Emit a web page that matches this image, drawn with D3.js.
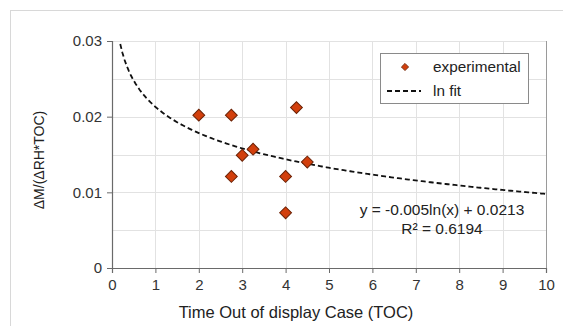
<!DOCTYPE html>
<html><head><meta charset="utf-8">
<script src="https://cdn.jsdelivr.net/npm/d3@7"></script>
<style>body{margin:0;background:#fff;}svg{display:block;font-family:"Liberation Sans",Arial,sans-serif;}</style>
</head><body>
<svg id="c" width="563" height="326"></svg>
<script>
const toc = [2, 2.75, 4.25, 3.25, 3, 4.5, 2.75, 4, 4];
const ratio = [0.0202, 0.0202, 0.0212, 0.0157, 0.0149, 0.0140, 0.0121, 0.0121, 0.0073];
const xTicks = [0,1,2,3,4,5,6,7,8,9,10];
const yTicks = [0, 0.01, 0.02, 0.03];
const yGrid = [0, 0.005, 0.01, 0.015, 0.02, 0.025, 0.03];
const fitA = -0.005, fitB = 0.0213;
const fitRange = [0.19, 10];
const legendLabels = ["experimental", "ln fit"];
const eqLines = ["y = -0.005ln(x) + 0.0213", "R² = 0.6194"];

const svg = d3.select("#c");
const L = 112, R = 546, T = 41, B = 268;
const x = d3.scaleLinear().domain([0,10]).range([L,R]);
const y = d3.scaleLinear().domain([0,0.03]).range([B,T]);

svg.append("rect").attr("x",10.5).attr("y",10.5).attr("width",600).attr("height",330)
  .attr("fill","#fff").attr("stroke","#d8d8d8");

svg.append("g").selectAll("line").data(yGrid).join("line")
  .attr("x1",L).attr("x2",R).attr("y1",d=>Math.round(y(d))+0.5).attr("y2",d=>Math.round(y(d))+0.5)
  .attr("stroke","#e2e2e2");
svg.append("g").selectAll("line").data(xTicks).join("line")
  .attr("y1",T).attr("y2",B).attr("x1",d=>Math.round(x(d))+0.5).attr("x2",d=>Math.round(x(d))+0.5)
  .attr("stroke","#e2e2e2");
svg.append("line").attr("x1",R+0.5).attr("x2",R+0.5).attr("y1",T).attr("y2",B).attr("stroke","#9a9a9a");

const xAxis = svg.append("g").attr("transform",`translate(0,${B})`)
  .call(d3.axisBottom(x).tickValues(xTicks).tickFormat(d3.format("d")).tickSizeOuter(0).tickSize(5).tickPadding(6));
const yAxis = svg.append("g").attr("transform",`translate(${L},0)`)
  .call(d3.axisLeft(y).tickValues(yTicks).tickFormat(d=>d===0?"0":d3.format(".2f")(d)).tickSizeOuter(0).tickSize(5).tickPadding(5));
[xAxis,yAxis].forEach(g=>{
  g.select(".domain").attr("stroke","#6a6a6a").attr("stroke-width",1.2);
  g.selectAll(".tick line").attr("stroke","#6a6a6a");
  g.selectAll("text").attr("fill","#333").style("font-size","15px").style("font-family","'Liberation Sans',Arial,sans-serif");
});

const fitPts = d3.range(fitRange[0], fitRange[1]+0.001, 0.05).map(v=>[v, fitA*Math.log(v)+fitB]);
svg.append("path").datum(fitPts)
  .attr("d", d3.line().x(d=>x(d[0])).y(d=>y(d[1])))
  .attr("fill","none").attr("stroke","#111").attr("stroke-width",1.8).attr("stroke-dasharray","5,3");

const sym = d3.symbol().type(d3.symbolSquare).size(70);
svg.append("g").selectAll("path").data(toc.map((t,i)=>[t,ratio[i]])).join("path")
  .attr("d", sym)
  .attr("transform", d=>`translate(${x(d[0])},${y(d[1])}) rotate(45)`)
  .attr("fill","#d23f0c").attr("stroke","#6b2206").attr("stroke-width",1);

svg.append("rect").attr("x",380.5).attr("y",53.5).attr("width",148).attr("height",50)
  .attr("fill","#fff").attr("stroke","#8a8a8a");
svg.append("path").attr("d", d3.symbol().type(d3.symbolSquare).size(26))
  .attr("transform","translate(405,67) rotate(45)").attr("fill","#d23f0c").attr("stroke","#6b2206").attr("stroke-width",0.8);
svg.append("line").attr("x1",387).attr("x2",421).attr("y1",91).attr("y2",91)
  .attr("stroke","#111").attr("stroke-width",1.8).attr("stroke-dasharray","5,3");
svg.append("g").selectAll("text").data(legendLabels).join("text")
  .attr("x",433).attr("y",(d,i)=>72+i*24).text(d=>d)
  .attr("fill","#222").style("font-size","15.3px");

svg.append("g").selectAll("text").data(eqLines).join("text")
  .attr("x",442).attr("y",(d,i)=>215+i*19).attr("text-anchor","middle").text(d=>d)
  .attr("fill","#222").style("font-size","15.5px");

svg.append("text").attr("x",296).attr("y",318).attr("text-anchor","middle")
  .text("Time Out of display Case (TOC)").attr("fill","#222").style("font-size","16.5px");
svg.append("text").attr("transform","translate(44,160) rotate(-90)").attr("text-anchor","middle")
  .text("ΔM/(ΔRH*TOC)").attr("fill","#222").style("font-size","14px");
</script>
</body></html>
